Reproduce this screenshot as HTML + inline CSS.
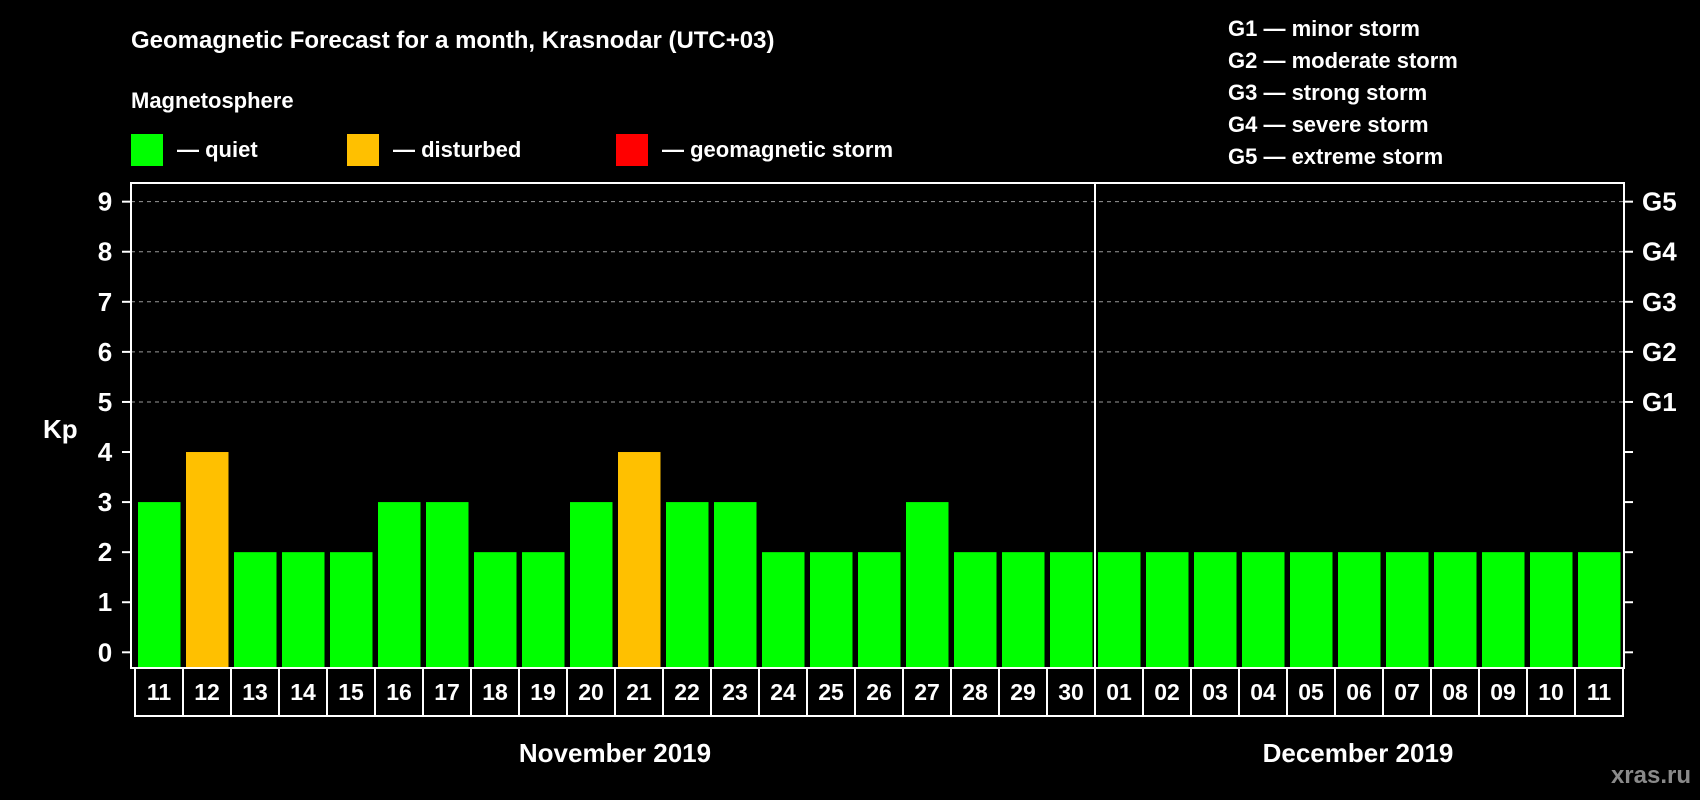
<!DOCTYPE html>
<html><head><meta charset="utf-8"><style>
html,body{margin:0;padding:0;background:#000;width:1700px;height:800px;overflow:hidden}
svg{display:block}
text{font-family:"Liberation Sans",Arial,sans-serif;font-weight:bold;fill:#fff}
</style></head><body>
<svg id="chart" width="1700" height="800" xmlns="http://www.w3.org/2000/svg">
<text x="131" y="48" font-size="24">Geomagnetic Forecast for a month, Krasnodar (UTC+03)</text>
<text x="131" y="108" font-size="22">Magnetosphere</text>
<g><rect x="131" y="134" width="32" height="32" fill="#00ff00"/><text x="177" y="157" font-size="22">— quiet</text></g>
<g><rect x="347" y="134" width="32" height="32" fill="#ffc000"/><text x="393" y="157" font-size="22">— disturbed</text></g>
<g><rect x="616" y="134" width="32" height="32" fill="#ff0000"/><text x="662" y="157" font-size="22">— geomagnetic storm</text></g>
<g font-size="22">
<text x="1228" y="36">G1 — minor storm</text>
<text x="1228" y="68">G2 — moderate storm</text>
<text x="1228" y="100">G3 — strong storm</text>
<text x="1228" y="132">G4 — severe storm</text>
<text x="1228" y="164">G5 — extreme storm</text>
</g>
<text x="43" y="438" font-size="26">Kp</text>
<g id="grid"></g><g id="bars"></g><g id="axes"></g>
<text x="615" y="762" font-size="26" text-anchor="middle">November 2019</text>
<text x="1358" y="762" font-size="26" text-anchor="middle">December 2019</text>
<text x="1691" y="783" font-size="24" text-anchor="end" style="fill:#8a8a8a">xras.ru</text>
</svg>
<script>
const days=["11","12","13","14","15","16","17","18","19","20","21","22","23","24","25","26","27","28","29","30","01","02","03","04","05","06","07","08","09","10","11"];
const kp=[3,4,2,2,2,3,3,2,2,3,4,3,3,2,2,2,3,2,2,2,2,2,2,2,2,2,2,2,2,2,2];
const yTicks=[0,1,2,3,4,5,6,7,8,9];
const gLabels=["G1","G2","G3","G4","G5"];
const NS="http://www.w3.org/2000/svg";
const L=131,R=1624,T=183,B=668,x0=135,pitch=48;
function y(v){return 652.3-v*50.07;}
function x(i){return x0+i*pitch;}
function mk(t,a,p){const e=document.createElementNS(NS,t);for(const k in a)e.setAttribute(k,a[k]);p.appendChild(e);return e;}
const grid=document.getElementById('grid'),bars=document.getElementById('bars'),axes=document.getElementById('axes');
yTicks.forEach(v=>{
 if(v>=5){const g=mk('line',{x1:L,x2:R,y1:y(v),y2:y(v),stroke:'#999','stroke-width':1,'stroke-dasharray':'4,4'},grid);
 
 }
 const t=mk('line',{x1:L-9,x2:L,y1:y(v),y2:y(v),stroke:'#fff','stroke-width':2},axes);
 
 
 const t2=mk('line',{x1:R,x2:R+9,y1:y(v),y2:y(v),stroke:'#fff','stroke-width':2},axes);
 
 
 const l=mk('text',{x:105,y:y(v)+9,'font-size':26,'text-anchor':'middle'},axes);l.textContent=v;
 
 
});
gLabels.forEach((g,i)=>{const l=mk('text',{x:1642,y:y(5+i)+9,'font-size':26},axes);l.textContent=g;
 
 });
kp.forEach((v,i)=>{
 const c=v>=5?'#ff0000':(v>=4?'#ffc000':'#00ff00');
 const r=mk('rect',{x:x(i)+3,y:y(v),width:42.5,height:B-y(v),fill:c},bars);
 
 
 const b=mk('rect',{x:x(i),y:B,width:pitch,height:48,fill:'none',stroke:'#fff','stroke-width':2},axes);
 
 
 const t=mk('text',{x:x(i)+pitch/2,y:B+32,'font-size':23,'text-anchor':'middle'},axes);t.textContent=days[i];
 
 
});
const f=mk('rect',{x:L,y:T,width:R-L,height:B-T,fill:'none',stroke:'#fff','stroke-width':2},axes);


const dv=mk('line',{x1:x(20),x2:x(20),y1:T,y2:B,stroke:'#fff','stroke-width':2},axes);


</script>
</body></html>
